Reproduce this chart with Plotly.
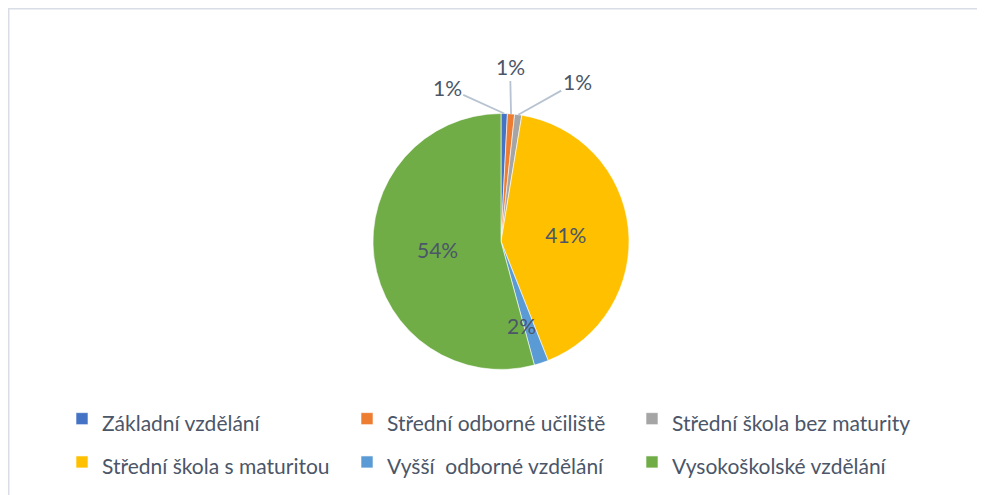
import math
import plotly.graph_objects as go

labels = [
    "Základní vzdělání",
    "Střední odborné učiliště",
    "Střední škola bez maturity",
    "Střední škola s maturitou",
    "Vyšší  odborné vzdělání",
    "Vysokoškolské vzdělání",
]
values = [0.8, 0.9, 0.9, 41.4, 1.8, 54.2]
colors = ["#4472C4", "#ED7D31", "#A5A5A5", "#FFC000", "#5B9BD5", "#70AD47"]

# which slices get plotly's own inside label; the rest are labelled by annotations
text_pos = ["none", "none", "none", "inside", "none", "inside"]
# label placement for the annotated slices: (dx px, dy px, leader) or (None, radius fraction, False)
label_offsets = {0: (-57, -26, True), 1: (-1, -47, True), 2: (59, -33, True), 4: (None, 0.67, False)}

TEXT = "#4B5668"
LEADER = "#B8C3D1"
FONT = "Lato, 'Open Sans', sans-serif"

# the page body has an 8px margin, so the figure is a bit smaller than the window
W, H = 977, 487
CX, CY, R = 493, 233.5, 128

fig = go.Figure(
    go.Pie(
        labels=[f"<span style='font-size:21px'>{l}</span>" for l in labels],
        values=values,
        sort=False,
        direction="clockwise",
        rotation=0,
        marker=dict(colors=colors, line=dict(color="white", width=0.6)),
        texttemplate="%{percent:.0%}",
        textposition=text_pos,
        insidetextorientation="horizontal",
        textfont=dict(size=21, color=TEXT, family=FONT),
        domain=dict(x=[(CX - R) / W, (CX + R) / W], y=[1 - (CY + R) / H, 1 - (CY - R) / H]),
        hoverinfo="percent",
    )
)

# labels for the small slices, anchored on each slice's mid angle
total = sum(values)
cum = 0
mids = []
for v in values:
    mids.append((cum + v / 2) / total * 2 * math.pi)
    cum += v

for i, (dx, dy, leader) in label_offsets.items():
    a = mids[i]
    pct = f"{round(values[i] / total * 100):.0f}%"
    if leader:
        px_, py_ = CX + R * math.sin(a), CY - R * math.cos(a)
        fig.add_annotation(
            x=px_ / W, y=1 - py_ / H, xref="paper", yref="paper",
            text=pct, showarrow=True, arrowhead=0, arrowwidth=1.8,
            arrowcolor=LEADER, ax=dx, ay=dy, standoff=0,
            font=dict(size=21, color=TEXT, family=FONT),
        )
    else:
        r = dy * R
        px_, py_ = CX + r * math.sin(a), CY - r * math.cos(a)
        fig.add_annotation(
            x=px_ / W, y=1 - py_ / H, xref="paper", yref="paper",
            text=pct, showarrow=False, xshift=-7, yshift=-3,
            font=dict(size=21, color=TEXT, family=FONT),
        )

fig.update_layout(
    width=W,
    height=H,
    margin=dict(l=0, r=0, t=0, b=0, autoexpand=False),
    paper_bgcolor="white",
    plot_bgcolor="white",
    font=dict(family=FONT, color=TEXT, size=18),
    showlegend=True,
    legend=dict(
        orientation="h",
        x=54 / W,
        xanchor="left",
        y=1 - 384 / H,
        yanchor="top",
        entrywidth=240,
        font=dict(size=31, color=TEXT, family=FONT),
        itemclick=False,
        tracegroupgap=0,
    ),
    shapes=[
        dict(
            type="rect", xref="paper", yref="paper",
            x0=0.75 / W, x1=1.05, y0=-0.05, y1=1 - 0.75 / H,
            line=dict(color="#D9DEE6", width=1.5),
            fillcolor="rgba(0,0,0,0)",
        )
    ],
)

fig.write_html("out.html")
